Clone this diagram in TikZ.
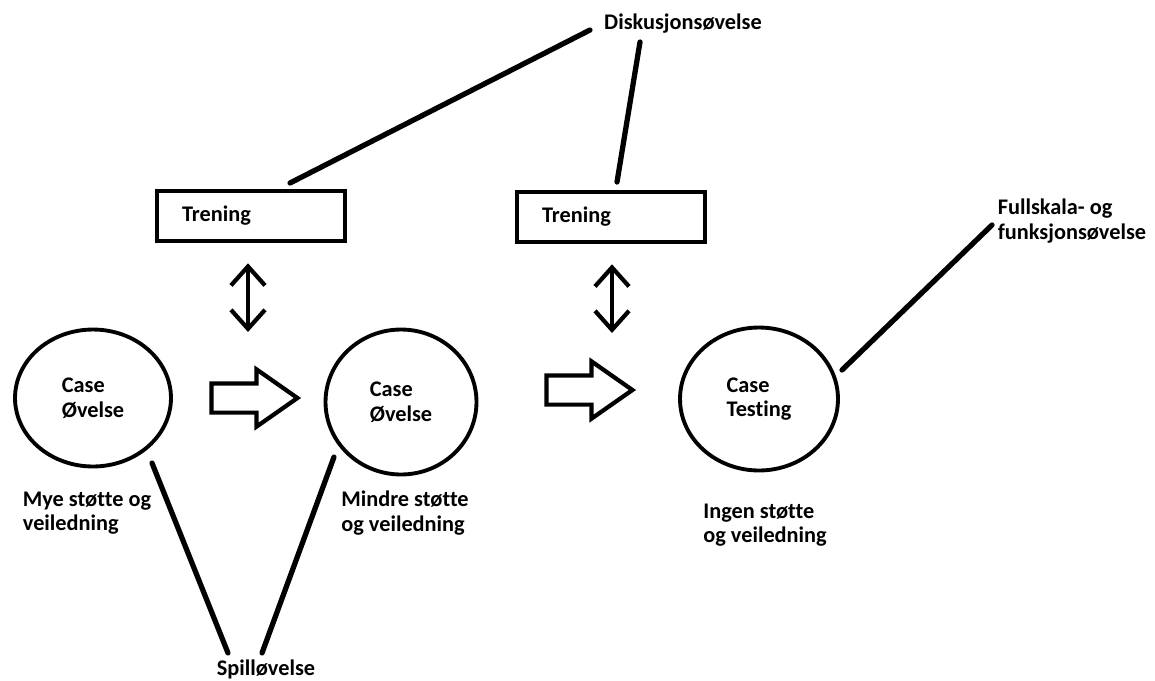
\documentclass[tikz,border=0pt]{standalone}
\usepackage{fontspec}
\setmainfont{Carlito}[Ligatures=NoCommon]
\usetikzlibrary{shapes.geometric,shapes.arrows,arrows.meta}

\begin{document}
\begin{tikzpicture}[x=0.02cm, y=-0.02cm,
	box/.style={
		draw,
		rectangle,
		line width=2.6pt,
		minimum height=1.0cm,
		text width=2.76cm,
		inner xsep=0.5cm,
		align=left},
	case/.style 2 args={
		draw,
		ellipse,
		line width=2.2pt,
		minimum width=#1,
		minimum height=#2,
		align=left},
	block/.style={
		draw,
		single arrow,
		line width=2.4pt,
		minimum height=1.72cm,
		text height=0.25cm,
		text depth=0.25cm,
		single arrow head extend=0.28cm,
		single arrow tip angle=70,
		inner sep=0pt},
	link/.style={line width=3pt, line cap=round},
	updown/.style={line width=2.4pt,
		{Straight Barb[length=0.38cm,width=0.68cm]}-{Straight Barb[length=0.38cm,width=0.68cm]}},
	every node/.style={font=\bfseries\fontsize{12.7}{14}\selectfont}]
	\useasboundingbox (0,0) rectangle (1155,680);
	% draw training boxes
	\node[box] (tr1) at (251,216) {Trening};
	\node[box] (tr2) at (611,217) {Trening};
	% draw case circles
	\node[case={3.12cm}{2.74cm}] (c1) at (93,398) {Case\\Øvelse};
	\node[case={3.02cm}{2.9cm}] (c2) at (401,402) {Case\\Øvelse};
	\node[case={3.16cm}{2.86cm}] (c3) at (759,399) {Case\\Testing};
	% draw block arrows between the cases
	\node[block] (b1) at (244,398) {};
	\node[block] (b2) at (579,390) {};
	% draw support labels under the cases
	\node[align=left] (s1) at (87,513) {Mye støtte og\\veiledning};
	\node[align=left] (s2) at (405,513) {Mindre støtte\\og veiledning};
	\node[align=left] (s3) at (765,525) {Ingen støtte\\og veiledning};
	% draw exercise type labels
	\node (disk) at (683,24) {Diskusjonsøvelse};
	\node[align=left] (full) at (1072,221) {Fullskala- og\\funksjonsøvelse};
	\node (spill) at (266,669) {Spilløvelse};
	% draw free ends of the links
	\coordinate (d1) at (248,332);
	\coordinate (d2) at (612,333);
	\coordinate (k1) at (290,183);
	\coordinate (k2) at (590,30);
	\coordinate (k3) at (617,182);
	\coordinate (k4) at (640,42);
	\coordinate (f1) at (842,370);
	\coordinate (f2) at (992,225);
	\coordinate (p1) at (152,463);
	\coordinate (p2) at (228,653);
	\coordinate (p3) at (334,457);
	\coordinate (p4) at (262,653);
	% draw training links
	\draw[updown, shorten <=0.4cm] (d1 |- tr1.south) -- (d1);
	\draw[updown, shorten <=0.4cm] (d2 |- tr2.south) -- (d2);
	% draw label links
	\draw[link] (k1) -- (k2);
	\draw[link] (k3) -- (k4);
	\draw[link] (f1) -- (f2);
	\draw[link] (p1) -- (p2);
	\draw[link] (p3) -- (p4);
\end{tikzpicture}
\end{document}
